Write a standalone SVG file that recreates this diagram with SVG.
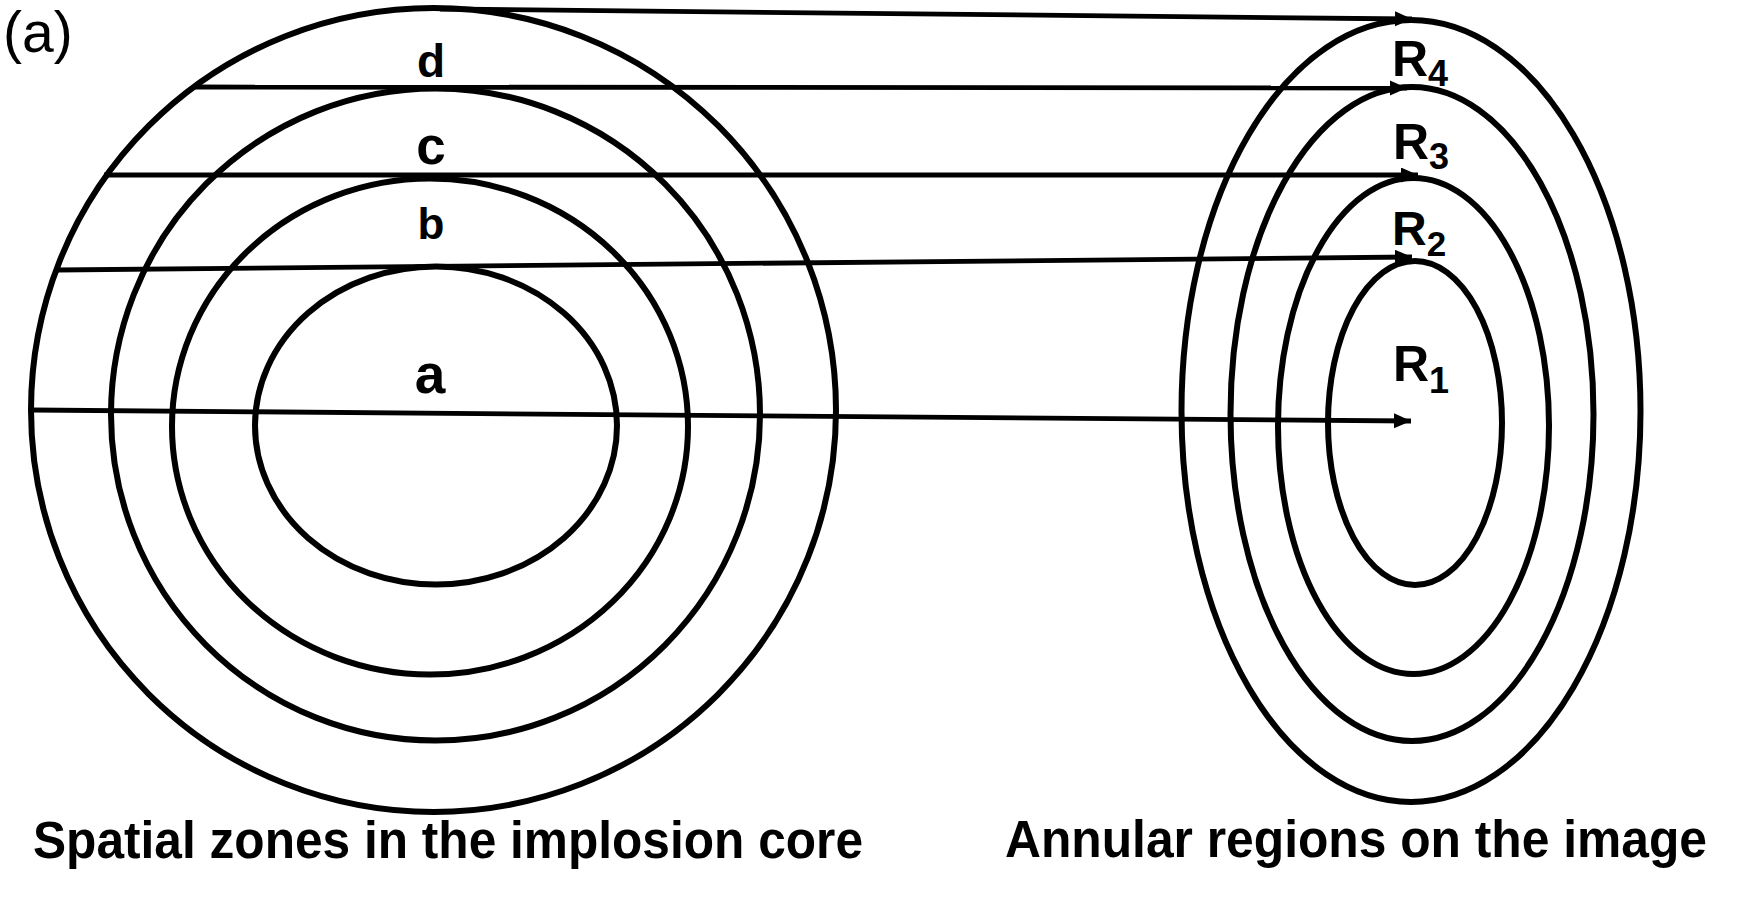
<svg xmlns="http://www.w3.org/2000/svg" width="1740" height="899" viewBox="0 0 1740 899">
<defs>
<style>
.ring{fill:none;stroke:#000;stroke-width:6}
.ray{fill:none;stroke:#000;stroke-width:4.8;marker-end:url(#ah)}
.lbl{font-family:"Liberation Sans",Arial,sans-serif;font-weight:bold;fill:#000}
.cap{font-family:"Liberation Sans",Arial,sans-serif;font-weight:bold;font-size:51px;fill:#000}
</style>
<marker id="ah" markerUnits="userSpaceOnUse" markerWidth="19" markerHeight="16" refX="17" refY="7.5" orient="auto">
<path d="M0,0 L17,7.5 L0,15 z" fill="#000"/>
</marker>
</defs>
<rect width="1740" height="899" fill="#fff"/>
<text x="3" y="52" font-family="'Liberation Sans',Arial,sans-serif" font-size="57" fill="#000">(a)</text>
<g id="core-zones">
<ellipse id="zone-outer" class="ring" cx="433.5" cy="410" rx="402.5" ry="402"/>
<ellipse id="zone-d" class="ring" cx="435.5" cy="414.5" rx="324.5" ry="326"/>
<ellipse id="zone-c" class="ring" cx="430" cy="426.5" rx="258" ry="248"/>
<ellipse id="zone-b" class="ring" cx="436" cy="425.5" rx="181" ry="159"/>
</g>
<g id="image-regions">
<ellipse id="region-outer" class="ring" cx="1411" cy="411" rx="229.5" ry="391"/>
<ellipse id="region-r4" class="ring" cx="1412" cy="414" rx="181.5" ry="327"/>
<ellipse id="region-r3" class="ring" cx="1413.5" cy="426" rx="135.5" ry="248"/>
<ellipse id="region-r2" class="ring" cx="1415" cy="423" rx="87" ry="162"/>
</g>
<g id="connectors">
<line class="ray" x1="440" y1="9" x2="1412" y2="19"/>
<line class="ray" x1="195" y1="87" x2="1407" y2="88"/>
<line class="ray" x1="104" y1="175" x2="1418" y2="175"/>
<line class="ray" x1="57" y1="270" x2="1412" y2="257"/>
<line class="ray" x1="32" y1="410" x2="1411" y2="421"/>
</g>
<g id="zone-labels">
<text class="lbl" x="431" y="77" font-size="46" text-anchor="middle">d</text>
<text class="lbl" x="431" y="164" font-size="53" text-anchor="middle">c</text>
<text class="lbl" x="431" y="239" font-size="44" text-anchor="middle">b</text>
<text class="lbl" x="430" y="393" font-size="55" text-anchor="middle">a</text>
</g>
<g id="region-labels">
<text class="lbl" x="1392" y="76" font-size="50">R<tspan font-size="36" dy="10">4</tspan></text>
<text class="lbl" x="1393" y="159" font-size="50">R<tspan font-size="36" dy="10">3</tspan></text>
<text class="lbl" x="1392" y="245" font-size="48">R<tspan font-size="35" dy="11">2</tspan></text>
<text class="lbl" x="1393" y="381" font-size="50">R<tspan font-size="36" dy="12">1</tspan></text>
</g>
<g id="captions">
<text class="cap" x="33" y="858" textLength="830" lengthAdjust="spacingAndGlyphs">Spatial zones in the implosion core</text>
<text class="cap" x="1005" y="857" textLength="702" lengthAdjust="spacingAndGlyphs">Annular regions on the image</text>
</g>
</svg>
